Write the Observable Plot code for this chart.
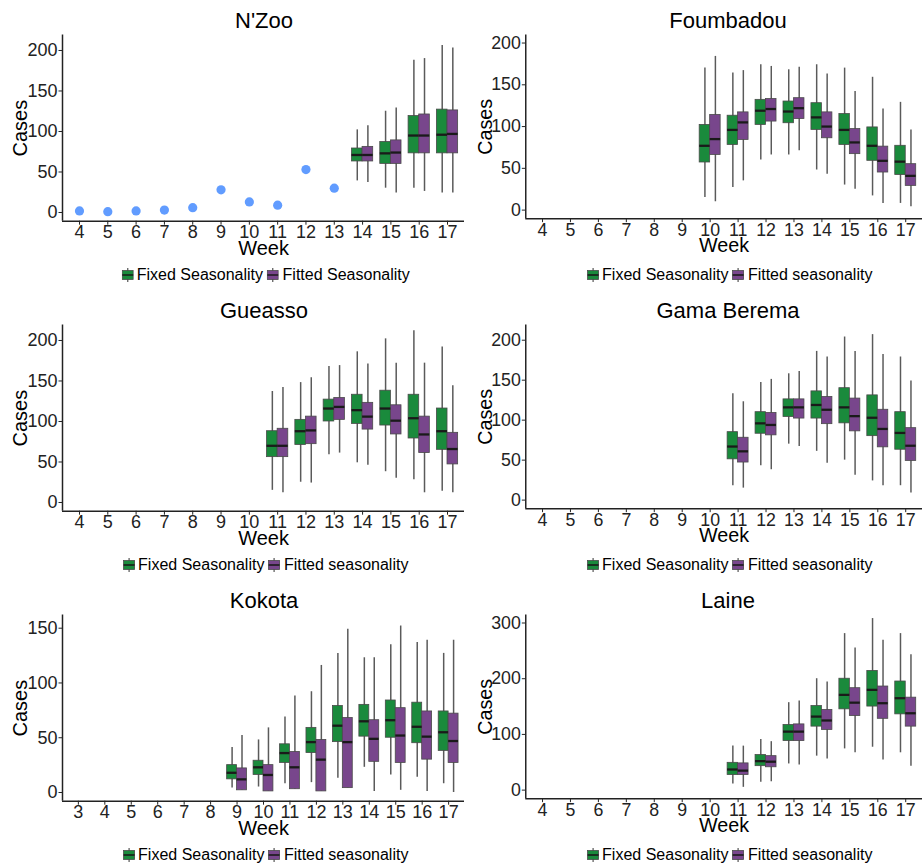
<!DOCTYPE html>
<html><head><meta charset="utf-8">
<script src="https://cdn.jsdelivr.net/npm/d3@7"></script>
<script src="https://cdn.jsdelivr.net/npm/@observablehq/plot@0.6"></script>
<style>
html,body{margin:0;padding:0;background:#fff;}
body{width:922px;height:865px;overflow:hidden;position:relative;font-family:"Liberation Sans",Arial,Helvetica,sans-serif;}
.plotbox{position:absolute;}
.title{position:absolute;font-size:22px;line-height:1;color:#000;transform:translateX(-50%);white-space:nowrap;z-index:2;}
.legend{position:absolute;font-size:16px;line-height:1;color:#000;transform:translateX(-50%);white-space:nowrap;display:flex;align-items:center;z-index:2;}
.legend svg{display:block;margin-right:3.5px;}
.legend .lab{margin-right:4px;}
</style>
</head><body>
<script>
// ---------- data ----------
// tick labels
const weekTicks = [4,5,6,7,8,9,10,11,12,13,14,15,16,17];
const weekTicksKokota = [3,4,5,6,7,8,9,10,11,12,13,14,15,16,17];
const yTicks200 = [0,50,100,150,200];
const yTicks150 = [0,50,100,150];
const yTicks300 = [0,100,200,300];
const seriesNames = ["Fixed Seasonality","Fitted seasonality"];
const seriesNamesNZoo = ["Fixed Seasonality","Fitted Seasonality"];

// N'Zoo observed points
const nzooObsWeeks = [4,5,6,7,8,9,10,11,12,13];
const nzooObs = [2,1,2,3,6,28,13,9,53,30];
// box stats per week: [lower whisker, Q1, median, Q3, upper whisker]
const nzooWeeks = [14,15,16,17];
const nzooFixed  = [[39,63,71,79,102],[30,60,73,87,125],[30,73,95,119,188],[24,73,96,127,206]];
const nzooFitted = [[37,63,71,81,107],[24,60,74,89,129],[26,73,95,121,190],[24,73,97,126,203]];

const foumWeeks = [10,11,12,13,14,15,16,17];
const foumFixed  = [[15,57,77,102,170],[27,78,96,113,164],[60,102,119,132,174],[66,104,118,130,168],[48,96,111,128,174],[30,78,96,115,170],[17,59,77,99,159],[8,42,58,77,129]];
const foumFitted = [[10,66,85,114,184],[35,84,105,117,167],[66,106,121,133,172],[71,109,122,134,171],[43,86,100,117,163],[25,67,81,97,142],[8,45,59,76,121],[4,29,41,55,96]];

const gueWeeks = [11,12,13,14,15,16,17];
const gueFixed  = [[15,56,70,88,137],[25,71,88,102,148],[59,100,116,127,168],[49,97,114,133,186],[38,95,116,138,202],[28,79,104,133,212],[14,65,88,116,192]];
const gueFitted = [[12,56,70,91,142],[24,72,89,106,154],[61,102,118,129,169],[46,90,106,123,171],[30,84,101,120,172],[12,61,84,106,172],[12,47,66,86,144]];

const gamaWeeks = [11,12,13,14,15,16,17];
const gamaFixed  = [[18,51,67,85,133],[43,83,96,110,147],[70,104,116,126,158],[61,102,119,136,186],[50,96,116,140,204],[24,80,103,131,207],[18,63,84,110,179]];
const gamaFitted = [[15,47,61,78,123],[38,81,94,109,151],[67,102,116,126,161],[46,95,113,129,179],[31,86,105,127,186],[18,66,89,113,182],[9,49,68,90,149]];

const kokWeeks = [9,10,11,12,13,14,15,16,17];
const kokFixed  = [[4,12,18,25,41],[5,16,23,29,48],[8,27,36,44,69],[9,36,46,59,92],[13,46,61,79,127],[23,51,65,80,123],[16,50,66,84,135],[14,45,60,82,137],[8,38,55,74,127]];
const kokFitted = [[2,2,12,22,52],[1,1,16,25,59],[3,3,23,37,88],[1,1,30,48,116],[4,4,46,68,149],[1,28,49,66,123],[2,27,52,77,152],[1,30,51,74,139],[0,27,47,72,139]];

const laineWeeks = [11,12,13,14,15,16,17];
const laineFixed  = [[11,27,37,49,79],[14,43,52,63,91],[47,88,105,117,157],[61,114,132,151,200],[74,145,171,200,281],[77,150,180,214,308],[67,136,165,195,281]];
const laineFitted = [[5,27,35,48,79],[15,41,51,61,87],[45,88,105,118,160],[56,108,125,144,194],[67,133,157,183,255],[54,128,156,186,269],[43,114,138,166,243]];

// ---------- styles ----------
const GREEN = "#1a8a3c";
const PURPLE = "#78468c";
const POINT = "#619CFF";
const HALF = 0.1875; // half box width in week units (dodge width 0.75)

function rowsOf(weeks, fixed, fitted){
  const out = [];
  weeks.forEach((w,i)=>{
    const a = fixed[i], b = fitted[i];
    out.push({week:w, c:w-HALF, s:0, lo:a[0], q1:a[1], med:a[2], q3:a[3], hi:a[4]});
    out.push({week:w, c:w+HALF, s:1, lo:b[0], q1:b[1], med:b[2], q3:b[3], hi:b[4]});
  });
  return out;
}

function keySvg(color){
  return `<svg width="12" height="14" viewBox="0 0 12 14"><line x1="6" x2="6" y1="0" y2="14" stroke="#555" stroke-width="1.2"/><rect x="0.5" y="2.5" width="11" height="9" fill="${color}" stroke="#4a4a4a" stroke-width="0.8"/><line x1="0.5" x2="11.5" y1="7" y2="7" stroke="#1a1a1a" stroke-width="1.6"/></svg>`;
}

function panel(o){
  const W = o.width, H = 230, mT = 4.5, mB = 39.3;
  const rows = rowsOf(o.weeks, o.fixed, o.fitted);
  const marks = [
    Plot.ruleX(rows, {x:"c", y1:"lo", y2:"hi", stroke:"#5a5a5a", strokeWidth:1.5}),
    Plot.rect(rows, {x1:d=>d.c-HALF, x2:d=>d.c+HALF, y1:"q1", y2:"q3", fill:d=>d.s?PURPLE:GREEN, stroke:"#4a4a4a", strokeWidth:0.8}),
    Plot.ruleY(rows, {x1:d=>d.c-HALF, x2:d=>d.c+HALF, y:"med", stroke:"#1a1a1a", strokeWidth:2.3})
  ];
  if (o.obs) {
    marks.push(Plot.dot(o.obsWeeks.map((w,i)=>({week:w, v:o.obs[i]})), {x:"week", y:"v", r:4.6, fill:POINT, stroke:"none"}));
  }
  marks.push(
    Plot.ruleX([o.xDomain[0]], {stroke:"#222", strokeWidth:1.5}),
    Plot.ruleY([o.yDomain[0]], {stroke:"#222", strokeWidth:1.5}),
    Plot.text(["Cases"], {frameAnchor:"left", rotate:-90, dx:o.casesDx, textAnchor:"middle", lineAnchor:"middle", fontSize:20, fill:"#000"}),
    Plot.text(["Week"], {frameAnchor:"bottom", dy:27.5, textAnchor:"middle", lineAnchor:"middle", fontSize:20, fill:"#000"})
  );
  const svg = Plot.plot({
    width: W, height: H,
    marginLeft: o.marginLeft, marginRight: 0, marginTop: mT, marginBottom: mB,
    x: {type:"linear", domain:o.xDomain, ticks:o.xTicks, tickFormat:d=>String(d), tickSize:4, tickPadding:0.5, label:null},
    y: {domain:o.yDomain, ticks:o.yTicks, tickFormat:d=>String(d), tickSize:3.5, tickPadding:1.5, label:null},
    style: {fontSize:"18px", fontFamily:"'Liberation Sans', Arial, sans-serif", color:"#222", background:"transparent", overflow:"visible"},
    marks
  });
  const box = document.createElement("div");
  box.className = "plotbox";
  box.style.left = o.left + "px";
  box.style.top = (o.top + 30) + "px";
  box.appendChild(svg);
  document.body.appendChild(box);

  const plotCenter = o.left + o.marginLeft + (W - o.marginLeft)/2;
  const t = document.createElement("div");
  t.className = "title";
  t.textContent = o.title;
  t.style.left = (plotCenter + 1) + "px";
  t.style.top = (o.top + 10) + "px";
  document.body.appendChild(t);

  const lg = document.createElement("div");
  lg.className = "legend";
  lg.innerHTML = keySvg(GREEN) + `<span class="lab">${o.legend[0]}</span>` + keySvg(PURPLE) + `<span class="lab" style="margin-right:0">${o.legend[1]}</span>`;
  lg.style.left = (plotCenter + 2.5) + "px";
  lg.style.top = (o.top + 266.5) + "px";
  document.body.appendChild(lg);
}

const L = {left:0, width:464, marginLeft:62, casesDx:-42};
const R = {left:470, width:458, marginLeft:56, casesDx:-41};
const D200 = [-10.74, 219.1];

panel({...L, top:0, title:"N'Zoo", weeks:nzooWeeks, fixed:nzooFixed, fitted:nzooFitted, obsWeeks:nzooObsWeeks, obs:nzooObs,
  xDomain:[3.4,17.6], xTicks:weekTicks, yDomain:D200, yTicks:yTicks200, legend:seriesNamesNZoo});
panel({...R, top:0, title:"Foumbadou", weeks:foumWeeks, fixed:foumFixed, fitted:foumFitted,
  xDomain:[3.4,17.6], xTicks:weekTicks, yDomain:[-10.28,209.7], yTicks:yTicks200, legend:seriesNames});
panel({...L, top:290, title:"Gueasso", weeks:gueWeeks, fixed:gueFixed, fitted:gueFitted,
  xDomain:[3.4,17.6], xTicks:weekTicks, yDomain:D200, yTicks:yTicks200, legend:seriesNames});
panel({...R, top:290, title:"Gama Berema", weeks:gamaWeeks, fixed:gamaFixed, fitted:gamaFitted,
  xDomain:[3.4,17.6], xTicks:weekTicks, yDomain:D200, yTicks:yTicks200, legend:seriesNames});
panel({...L, top:580, title:"Kokota", weeks:kokWeeks, fixed:kokFixed, fitted:kokFitted,
  xDomain:[2.4,17.6], xTicks:weekTicksKokota, yDomain:[-7.94,162.05], yTicks:yTicks150, legend:seriesNames});
panel({...R, top:580, title:"Laine", weeks:laineWeeks, fixed:laineFixed, fitted:laineFitted,
  xDomain:[3.4,17.6], xTicks:weekTicks, yDomain:[-15.4,314.5], yTicks:yTicks300, legend:seriesNames});
</script>
</body></html>
